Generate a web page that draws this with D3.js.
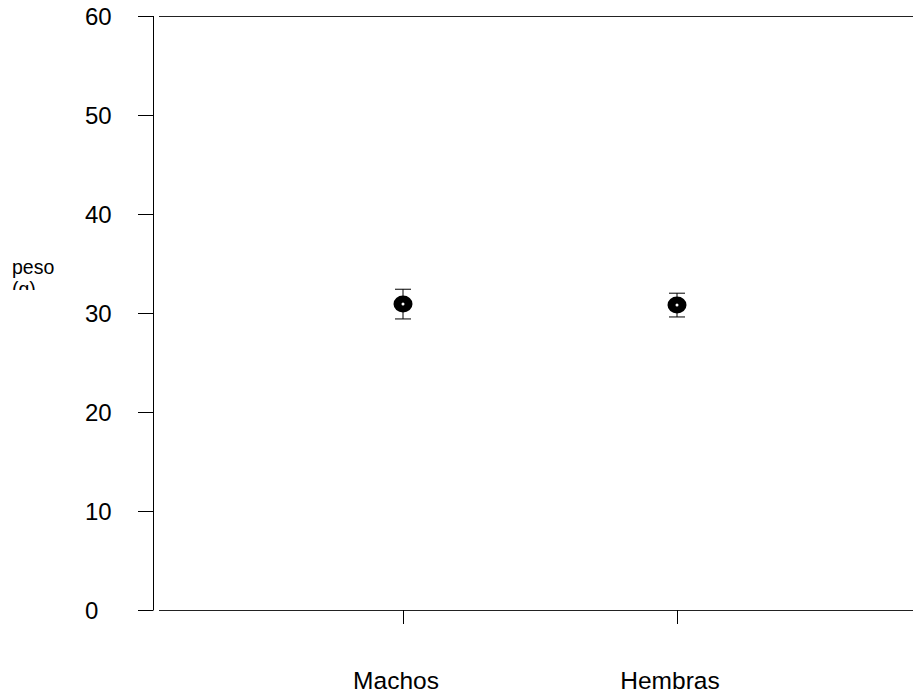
<!DOCTYPE html>
<html>
<head>
<meta charset="utf-8">
<script src="https://cdn.jsdelivr.net/npm/d3@7"></script>
<style>
  html, body { margin: 0; padding: 0; background: #fff; }
  svg { display: block; font-family: "Liberation Sans", Arial, sans-serif; }
</style>
</head>
<body>
<svg id="chart" width="913" height="694"></svg>
<script>
const categories = ["Machos", "Hembras"];
const means = [30.9, 30.8];
const upper = [32.4, 32.0];
const lower = [29.4, 29.6];
const yTicks = [0, 10, 20, 30, 40, 50, 60];
const yLabelLines = ["peso", "(g)"];

const svg = d3.select("#chart");
const y = d3.scaleLinear().domain([0, 60]).range([610, 16]);
const x = d3.scalePoint().domain(categories).range([403, 677]);

const axisX = 153.5;

svg.append("line")
  .attr("x1", axisX).attr("x2", axisX)
  .attr("y1", y(60)).attr("y2", y(0))
  .attr("stroke", "#000").attr("stroke-width", 1);

[60, 0].forEach(v => {
  svg.append("line")
    .attr("x1", 159).attr("x2", 913)
    .attr("y1", Math.round(y(v)) + 0.5).attr("y2", Math.round(y(v)) + 0.5)
    .attr("stroke", "#222").attr("stroke-width", 1);
});

const yt = svg.append("g");
yt.selectAll("line").data(yTicks).join("line")
  .attr("x1", 138).attr("x2", axisX)
  .attr("y1", d => Math.round(y(d)) + 0.5).attr("y2", d => Math.round(y(d)) + 0.5)
  .attr("stroke", "#000").attr("stroke-width", 1);
yt.selectAll("text").data(yTicks).join("text")
  .attr("x", 85).attr("y", d => y(d) + 9)
  .attr("font-size", 24).attr("fill", "#000")
  .text(d => d);

const xt = svg.append("g");
xt.selectAll("line").data(categories).join("line")
  .attr("x1", d => Math.round(x(d)) + 0.5).attr("x2", d => Math.round(x(d)) + 0.5)
  .attr("y1", y(0)).attr("y2", y(0) + 14)
  .attr("stroke", "#000").attr("stroke-width", 1);
xt.selectAll("text").data(categories).join("text")
  .attr("x", d => x(d) - 7).attr("y", 689)
  .attr("text-anchor", "middle")
  .attr("font-size", 24.5).attr("fill", "#000")
  .text(d => d);

const defs = svg.append("defs");
defs.append("clipPath").attr("id", "ylabclip")
  .append("rect").attr("x", 0).attr("y", 240).attr("width", 120).attr("height", 50);
const yl = svg.append("g").attr("clip-path", "url(#ylabclip)");
yl.selectAll("text").data(yLabelLines).join("text")
  .attr("x", 12).attr("y", (d, i) => 274 + i * 22)
  .attr("font-size", 19.5).attr("fill", "#000")
  .text(d => d);

const data = categories.map((c, i) => ({ c, m: means[i], u: upper[i], l: lower[i] }));
const g = svg.append("g");
data.forEach(d => {
  const cx = x(d.c);
  g.append("line").attr("x1", cx).attr("x2", cx)
    .attr("y1", y(d.u)).attr("y2", y(d.l))
    .attr("stroke", "#000").attr("stroke-width", 1);
  [d.u, d.l].forEach(v => {
    g.append("line").attr("x1", cx - 8).attr("x2", cx + 8)
      .attr("y1", y(v)).attr("y2", y(v))
      .attr("stroke", "#000").attr("stroke-width", 1);
  });
  g.append("ellipse").attr("cx", cx).attr("cy", y(d.m))
    .attr("rx", 9.5).attr("ry", 8.5).attr("fill", "#000");
  g.append("circle").attr("cx", cx).attr("cy", y(d.m))
    .attr("r", 1.5).attr("fill", "#fff");
});
</script>
</body>
</html>
